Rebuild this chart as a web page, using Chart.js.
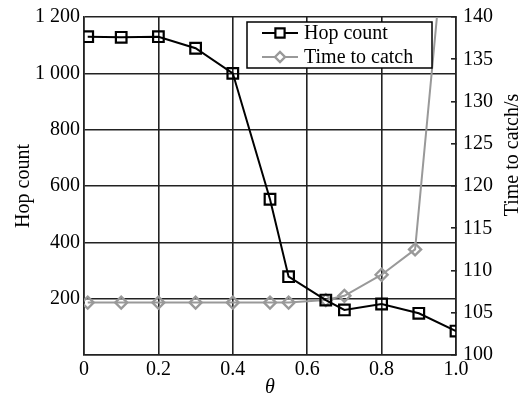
<!DOCTYPE html>
<html>
<head>
<meta charset="utf-8">
<script src="https://cdn.jsdelivr.net/npm/chart.js@4/dist/chart.umd.min.js"></script>
<style>
  html, body { margin: 0; padding: 0; background: #fff; }
  #wrap { width: 531px; height: 400px; }
</style>
</head>
<body>
<div id="wrap"><canvas id="chart"></canvas></div>
<script>
// theta values and the two measured series
const thetaHop = [0.01, 0.1, 0.2, 0.3, 0.4, 0.5, 0.55, 0.65, 0.7, 0.8, 0.9, 1.0];
const hopCount = [1130, 1128, 1130, 1089, 1000, 553, 278, 195, 160, 181, 148, 85];
const thetaTime = [0.01, 0.1, 0.2, 0.3, 0.4, 0.5, 0.55, 0.65, 0.7, 0.8, 0.89, 1.0];
const catchTime = [106.2, 106.2, 106.2, 106.2, 106.2, 106.2, 106.2, 106.5, 107.0, 109.5, 112.5, 164];

// tick labels
const xLabels = ["0", "0.2", "0.4", "0.6", "0.8", "1.0"];
const hopLabels = ["", "200", "400", "600", "800", "1 000", "1 200"];
const timeLabels = ["100", "105", "110", "115", "120", "125", "130", "135", "140"];

const serif = "'Liberation Serif', 'Times New Roman', serif";
const gridColor = "#222";

// fixed axis widths so the plot box lands where it should
function fixWidth(w) {
    return s => {
        s.width = w;
        s.paddingTop = 0;
        s.paddingBottom = 0;
    };
}

// legend drawn inside the plot, plus the right axis title (reads bottom to top)
const extras = {
    id: "extras",
    afterDraw(chart) {
        const ctx = chart.ctx;
        const area = chart.chartArea;
        const boxW = 185, boxH = 46;
        const bx = area.right - 24 - boxW;
        const by = area.top + 5;

        ctx.save();
        ctx.fillStyle = "#fff";
        ctx.strokeStyle = "#000";
        ctx.lineWidth = 1.5;
        ctx.fillRect(bx, by, boxW, boxH);
        ctx.strokeRect(bx, by, boxW, boxH);

        ctx.font = "20px " + serif;
        ctx.textBaseline = "middle";
        chart.data.datasets.forEach((ds, i) => {
            const y = by + 11 + i * 24;
            ctx.strokeStyle = ds.borderColor;
            ctx.lineWidth = ds.borderWidth;
            ctx.beginPath();
            ctx.moveTo(bx + 15, y);
            ctx.lineTo(bx + 51, y);
            ctx.stroke();
            ctx.fillStyle = "#fff";
            ctx.strokeStyle = ds.pointBorderColor;
            ctx.lineWidth = ds.pointBorderWidth;
            Chart.helpers.drawPoint(ctx, {
                pointStyle: ds.pointStyle,
                radius: ds.pointRadius - 1,
                borderWidth: ds.pointBorderWidth,
                rotation: 0
            }, bx + 33, y);
            ctx.fillStyle = "#000";
            ctx.textAlign = "left";
            ctx.fillText(ds.label, bx + 57, y + 1);
        });

        // right axis title
        ctx.translate(area.right + 57, area.top + 138);
        ctx.rotate(-Math.PI / 2);
        ctx.textAlign = "center";
        ctx.fillStyle = "#000";
        ctx.fillText("Time to catch/s", 0, 0);
        ctx.restore();
    }
};

new Chart(document.getElementById("chart"), {
    type: "line",
    data: {
        datasets: [
            {
                label: "Hop count",
                data: thetaHop.map((t, i) => ({ x: t, y: hopCount[i] })),
                yAxisID: "yHop",
                borderColor: "#000",
                borderWidth: 2,
                pointStyle: "rect",
                pointRadius: 7.5,
                pointBorderWidth: 2.2,
                pointBorderColor: "#000",
                pointBackgroundColor: "rgba(0,0,0,0)",
                order: 1
            },
            {
                label: "Time to catch",
                data: thetaTime.map((t, i) => ({ x: t, y: catchTime[i] })),
                yAxisID: "yTime",
                borderColor: "#999",
                borderWidth: 2,
                pointStyle: "rectRot",
                pointRadius: 6,
                pointBorderWidth: 2.4,
                pointBorderColor: "#999",
                pointBackgroundColor: "rgba(0,0,0,0)",
                order: 2
            }
        ]
    },
    options: {
        responsive: true,
        maintainAspectRatio: false,
        animation: false,
        layout: { padding: { top: 17, right: 0, left: 0, bottom: 0 } },
        plugins: {
            legend: { display: false },
            tooltip: { enabled: false }
        },
        scales: {
            x: {
                type: "linear",
                min: 0,
                max: 1,
                afterFit: s => { s.height = 45; },
                ticks: {
                    stepSize: 0.2,
                    padding: 3,
                    color: "#000",
                    font: { family: serif, size: 20 },
                    maxRotation: 0,
                    callback: (v, i) => xLabels[i]
                },
                grid: { color: gridColor, lineWidth: 1.6, drawTicks: false },
                border: { color: gridColor, width: 1.6 },
                title: {
                    display: true,
                    text: "θ",
                    color: "#000",
                    padding: 0,
                    font: { family: serif, size: 20, style: "italic" }
                }
            },
            yHop: {
                position: "left",
                min: 0,
                max: 1200,
                afterFit: fixWidth(84),
                ticks: {
                    stepSize: 200,
                    padding: 4,
                    color: "#000",
                    font: { family: serif, size: 20 },
                    callback: (v, i) => hopLabels[i]
                },
                grid: { color: gridColor, lineWidth: 1.6, drawTicks: false },
                border: { color: gridColor, width: 1.6 },
                title: {
                    display: true,
                    text: "Hop count",
                    color: "#000",
                    padding: { top: 12 },
                    font: { family: serif, size: 20 }
                }
            },
            yTime: {
                position: "right",
                min: 100,
                max: 140,
                afterFit: fixWidth(75),
                ticks: {
                    stepSize: 5,
                    padding: 12,
                    color: "#000",
                    font: { family: serif, size: 20 },
                    callback: (v, i) => timeLabels[i]
                },
                grid: {
                    drawOnChartArea: false,
                    drawTicks: true,
                    tickLength: -5,
                    color: gridColor,
                    lineWidth: 1.6
                },
                border: { color: gridColor, width: 1.6 }
            }
        }
    },
    plugins: [extras]
});
</script>
</body>
</html>
